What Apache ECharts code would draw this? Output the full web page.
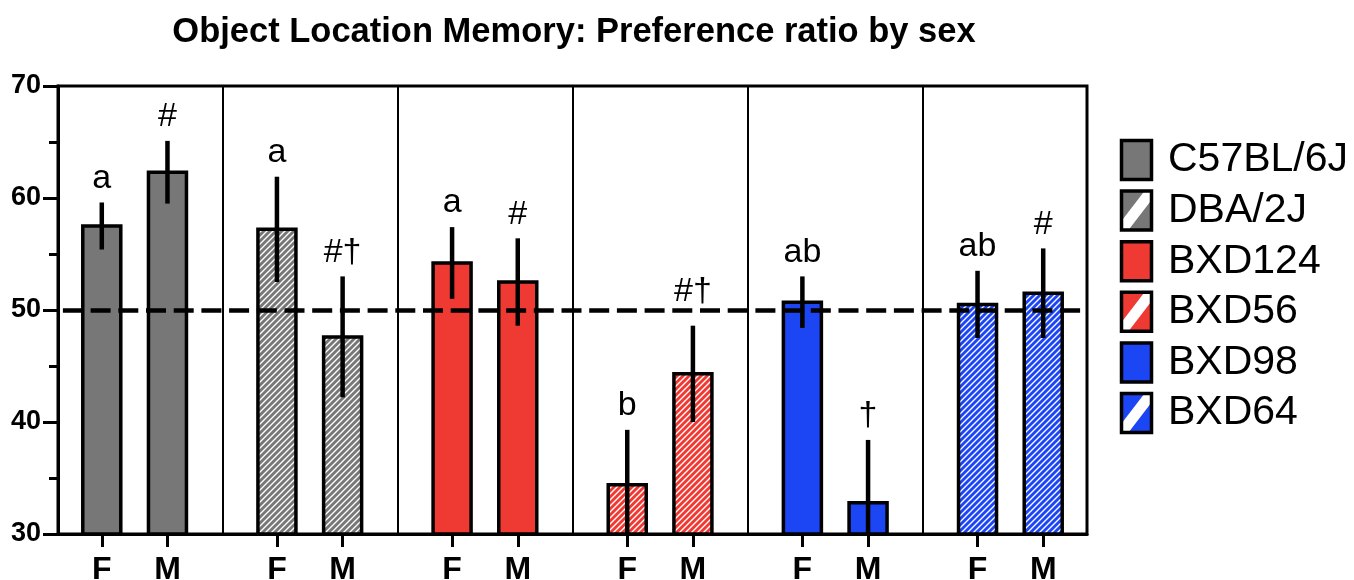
<!DOCTYPE html>
<html>
<head>
<meta charset="utf-8">
<script src="https://cdn.jsdelivr.net/npm/echarts@6/dist/echarts.min.js"></script>
<style>
  html, body { margin: 0; padding: 0; background: #fff; }
  #chart { width: 1354px; height: 580px; }
</style>
</head>
<body>
<div id="chart"></div>
<script>
// Strains and sexes
const strains = ['C57BL/6J', 'DBA/2J', 'BXD124', 'BXD56', 'BXD98', 'BXD64'];
const sexes = ['F', 'M'];

// Preference ratio (%) mean and SEM per strain
const femaleMean = [57.5, 57.2, 54.2, 34.4, 50.7, 50.5];
const femaleSem  = [2.1, 4.7, 3.2, 4.9, 2.3, 3.0];
const maleMean   = [62.3, 47.6, 52.5, 44.3, 32.8, 51.5];
const maleSem    = [2.8, 5.4, 3.9, 4.3, 5.6, 4.0];

// Significance marks above each bar
const femaleMarks = ['a', 'a', 'a', 'b', 'ab', 'ab'];
const maleMarks   = ['#', '#†', '#', '#†', '†', '#'];

// Chance level and y ticks
const chanceLevel = 50;
const yTicks = [30, 40, 50, 60, 70];

// ---- styling ----
const FONT = '"Liberation Sans", Arial, Helvetica, sans-serif';
const strainColor = ['#777777', '#777777', '#ee3a33', '#ee3a33', '#1c45f3', '#1c45f3'];
const strainHatched = [false, true, false, true, false, true];

// Position of F and M bars inside each strain slot (slot width = 1)
const sexOffset = [0.25, 0.625];
const slotEnd = 0.875;
const xMax = strains.length - 1 + slotEnd;

function hatchPattern(color) {
  const s = 6;
  const c = document.createElement('canvas');
  c.width = s; c.height = s;
  const ctx = c.getContext('2d');
  ctx.fillStyle = color;
  ctx.fillRect(0, 0, s, s);
  ctx.strokeStyle = '#ffffff';
  ctx.lineWidth = 1.35;
  ctx.beginPath();
  ctx.moveTo(0, s); ctx.lineTo(s, 0);
  ctx.moveTo(-1, 1); ctx.lineTo(1, -1);
  ctx.moveTo(s - 1, s + 1); ctx.lineTo(s + 1, s - 1);
  ctx.stroke();
  return { image: c, repeat: 'repeat' };
}
const strainFill = strains.map((_, i) =>
  strainHatched[i] ? hatchPattern(strainColor[i]) : strainColor[i]);

// Bar records: [x, mean, sem, strainIndex, sexIndex]
const means = [femaleMean, maleMean];
const sems = [femaleSem, maleSem];
const marks = [femaleMarks, maleMarks];
const barData = [];
strains.forEach((_, s) => {
  sexes.forEach((__, k) => {
    barData.push([s + sexOffset[k], means[k][s], sems[k][s], s, k]);
  });
});
const tickPositions = barData.map(d => d[0]);
const sexAt = v => (v - Math.floor(v) < 0.5 ? sexes[0] : sexes[1]);
// divider between strain groups: halfway from one M bar to the next F bar
const dividerAt = i => i + (sexOffset[1] + 1 + sexOffset[0]) / 2;

const yMin = yTicks[0], yMax = yTicks[yTicks.length - 1];
const BAR_W = 38;

function renderBar(params, api) {
  const x = api.value(0), mean = api.value(1), sem = api.value(2);
  const s = api.value(3), k = api.value(4);
  const base = api.coord([x, yMin]);
  const top = api.coord([x, mean]);
  const hi = api.coord([x, mean + sem]);
  const lo = api.coord([x, Math.max(mean - sem, yMin)]);
  const refY = api.coord([x, chanceLevel])[1];

  // place mark above the error bar, lifting it over the chance line if they collide
  let labelBottom = hi[1] - 7;
  const labelH = 26;
  if (hi[1] > refY && labelBottom - labelH < refY + 4) labelBottom = refY - 1;

  return {
    type: 'group',
    children: [
      {
        type: 'rect',
        shape: { x: top[0] - BAR_W / 2, y: top[1], width: BAR_W, height: base[1] - top[1] },
        style: { fill: strainFill[s], stroke: '#000', lineWidth: 3.5 }
      },
      {
        type: 'line',
        z2: 10,
        shape: { x1: top[0], y1: hi[1], x2: top[0], y2: lo[1] },
        style: { stroke: '#000', lineWidth: 4.5 }
      },
      {
        type: 'text',
        style: {
          text: marks[k][s], x: top[0], y: labelBottom,
          align: 'center', verticalAlign: 'bottom',
          fontSize: 34, fontFamily: FONT, fill: '#000'
        }
      }
    ]
  };
}

// Legend built from the strain list
const legendGraphics = [];
const LG_X = 1121.5, LG_W = 30, LG_H = 39, LG_TOP = 140.5, LG_STEP = 50.6;
strains.forEach((name, i) => {
  const x0 = LG_X, y0 = LG_TOP + i * LG_STEP;
  const x1 = x0 + LG_W, y1 = y0 + LG_H;
  const children = [
    { type: 'rect', shape: { x: x0, y: y0, width: LG_W, height: LG_H },
      style: { fill: strainColor[i] } }
  ];
  if (strainHatched[i]) {
    const d1 = 9, d2 = 7;
    children.push({
      type: 'polygon',
      shape: { points: [[x0, y1 - d1], [x1 - d2, y0], [x1, y0], [x1, y0 + d1], [x0 + d2, y1], [x0, y1]] },
      style: { fill: '#fff' }
    });
  }
  children.push({ type: 'rect', shape: { x: x0, y: y0, width: LG_W, height: LG_H },
    style: { fill: 'none', stroke: '#000', lineWidth: 3.5 } });
  children.push({ type: 'text', style: {
    text: name, x: 1168, y: y0 + LG_H / 2, align: 'left', verticalAlign: 'middle',
    fontSize: 41, fontFamily: FONT, fill: '#000' } });
  legendGraphics.push({ type: 'group', children });
});

const chart = echarts.init(document.getElementById('chart'));
chart.setOption({
  animation: false,
  backgroundColor: '#fff',
  graphic: [
    { type: 'text', style: {
      text: 'Object Location Memory: Preference ratio by sex',
      x: 574, y: 32, align: 'center', verticalAlign: 'middle',
      fontSize: 34.5, fontWeight: 'bold', fontFamily: FONT, fill: '#000' } },
    ...legendGraphics
  ],
  grid: {
    left: 58, right: 267, top: 86, bottom: 46,
    containLabel: false, outerBoundsMode: 'none',
    show: true, borderColor: '#000', borderWidth: 3, backgroundColor: 'transparent'
  },
  xAxis: {
    type: 'value', min: 0, max: xMax,
    axisLine: { show: true, lineStyle: { color: '#000', width: 3 } },
    axisTick: { show: true, customValues: tickPositions, length: 13, lineStyle: { color: '#000', width: 3 } },
    axisLabel: { show: true, customValues: tickPositions, formatter: v => sexAt(v),
      fontSize: 32, fontWeight: 'bold', fontFamily: FONT, color: '#000', margin: 20 },
    splitLine: { show: false }
  },
  yAxis: {
    type: 'value', min: yMin, max: yMax, interval: 10,
    axisLine: { show: true, lineStyle: { color: '#000', width: 3 } },
    axisTick: { show: true, length: 15, lineStyle: { color: '#000', width: 3 } },
    minorTick: { show: true, splitNumber: 2, length: 9, lineStyle: { color: '#000', width: 3 } },
    axisLabel: { fontSize: 27, fontWeight: 'bold', fontFamily: FONT, color: '#000', margin: 17 },
    splitLine: { show: false },
    minorSplitLine: { show: false }
  },
  series: [
    {
      type: 'custom',
      renderItem: renderBar,
      data: barData,
      encode: { x: 0, y: 1 },
      z: 2
    },
    {
      type: 'line',
      data: [],
      z: 3,
      silent: true,
      markLine: {
        silent: true,
        symbol: 'none',
        label: { show: false },
        data: strains.slice(1).map((_, i) => ({
          xAxis: dividerAt(i),
          lineStyle: { color: '#000', width: 2, type: 'solid' }
        }))
      }
    },
    {
      type: 'line',
      data: [],
      z: 4,
      silent: true,
      markLine: {
        silent: true,
        symbol: 'none',
        label: { show: false },
        data: [{ yAxis: chanceLevel,
          lineStyle: { color: '#000', width: 4.5, type: [20, 7.7], dashOffset: 22.8 } }]
      }
    }
  ]
});
</script>
</body>
</html>
